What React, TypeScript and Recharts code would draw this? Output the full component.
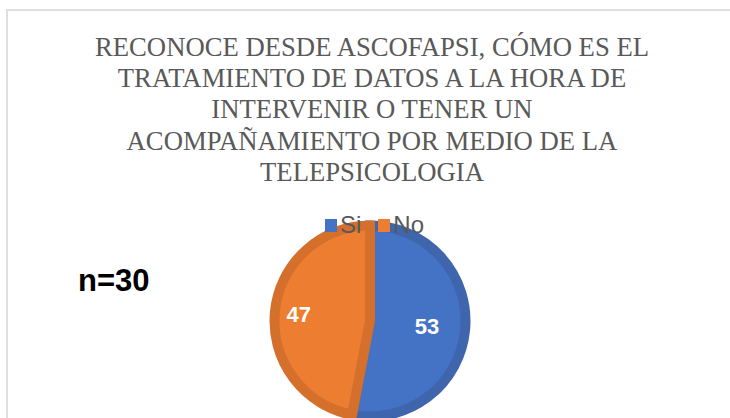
import { PieChart, Pie, Cell } from 'recharts';

const categories = ['Si', 'No'];
const values = [53, 47];
const fills = ['#4472c4', '#ed7d31'];
const edges = ['#3f66ad', '#d4702c'];
const labelRatio = [0.6, 0.75];

const titleLines = [
  'RECONOCE DESDE ASCOFAPSI, CÓMO ES EL',
  'TRATAMIENTO DE DATOS A LA HORA DE',
  'INTERVENIR O TENER UN',
  'ACOMPAÑAMIENTO POR MEDIO DE LA',
  'TELEPSICOLOGIA',
];

const sampleNote = 'n=30';

const data = categories.map((name, i) => ({ name, value: values[i] }));

const RADIAN = Math.PI / 180;
const sans = "Arial, 'Liberation Sans', sans-serif";

function renderLabel(props: any) {
  const { cx, cy, midAngle, outerRadius, value, index } = props;
  const r = outerRadius * labelRatio[index];
  const x = cx + r * Math.cos(-midAngle * RADIAN);
  const y = cy + r * Math.sin(-midAngle * RADIAN);
  return (
    <text
      x={x}
      y={y}
      fill="#ffffff"
      fontFamily={sans}
      fontWeight="bold"
      fontSize={22}
      textAnchor="middle"
      dominantBaseline="central"
    >
      {value}
    </text>
  );
}

export default function App() {
  return (
    <div style={{ position: 'absolute', left: 0, top: 0, width: 730, height: 418, overflow: 'hidden' }}>
      <div
        style={{
          position: 'absolute',
          left: 6,
          top: 9,
          width: 740,
          height: 440,
          border: '2px solid #e0e0e0',
          boxSizing: 'border-box',
        }}
      />
      <div
        style={{
          position: 'absolute',
          left: 0,
          top: 32,
          width: 744,
          textAlign: 'center',
          fontFamily: "'Liberation Serif', 'Times New Roman', 'DejaVu Serif', serif",
          fontSize: 26.7,
          lineHeight: '31.2px',
          color: '#595959',
          whiteSpace: 'nowrap',
        }}
      >
        {titleLines.map((l) => (
          <div key={l}>{l}</div>
        ))}
      </div>
      <div
        style={{
          position: 'absolute',
          left: 78,
          top: 264,
          fontFamily: sans,
          fontWeight: 'bold',
          fontSize: 31,
          lineHeight: '34px',
          color: '#000000',
        }}
      >
        {sampleNote}
      </div>
      <div style={{ position: 'absolute', left: 0, top: 0 }}>
        <PieChart width={740} height={440} margin={{ top: 0, right: 0, bottom: 0, left: 0 }}>
          <Pie
            data={data}
            dataKey="value"
            nameKey="name"
            cx={370}
            cy={321}
            outerRadius={95.5}
            startAngle={90}
            endAngle={-270}
            label={renderLabel}
            labelLine={false}
            isAnimationActive={false}
          >
            {data.map((d, i) => (
              <Cell key={d.name} fill={fills[i]} stroke={edges[i]} strokeWidth={10} />
            ))}
          </Pie>
        </PieChart>
      </div>
      <div
        style={{
          position: 'absolute',
          left: 325,
          top: 212,
          display: 'flex',
          alignItems: 'center',
          fontFamily: sans,
          fontSize: 24,
          lineHeight: '26px',
          color: '#595959',
        }}
      >
        {categories.map((c, i) => (
          <span key={c} style={{ display: 'flex', alignItems: 'center', marginRight: 17 }}>
            <span
              style={{
                width: 12,
                height: 13,
                background: fills[i],
                marginRight: 3,
                display: 'inline-block',
              }}
            />
            <span>{c}</span>
          </span>
        ))}
      </div>
    </div>
  );
}
